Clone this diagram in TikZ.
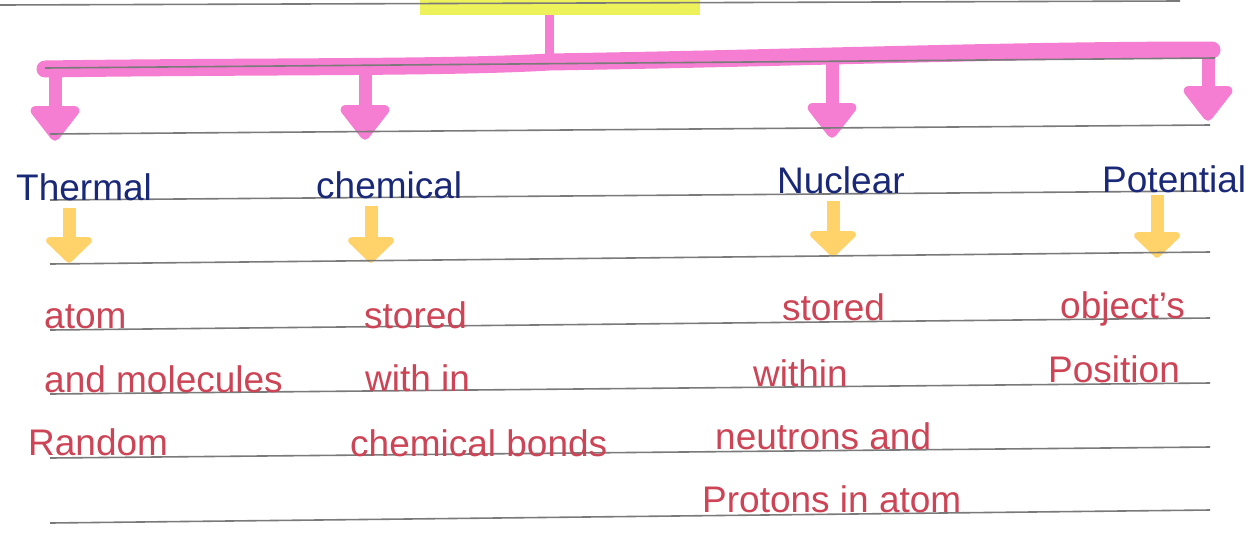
\documentclass[tikz,border=0pt]{standalone}
\usepackage{fontspec}
\setmainfont{Liberation Sans}
\usetikzlibrary{arrows.meta}
\definecolor{pinkc}{HTML}{F57DD2}
\definecolor{yel}{HTML}{FFD36A}
\definecolor{navy}{HTML}{1A2878}
\definecolor{redc}{HTML}{CC4455}
\definecolor{rulec}{HTML}{7A7A7A}
\definecolor{hl}{HTML}{EEF25A}
\pgfdeclarelayer{fg}
\pgfsetlayers{main,fg}
\begin{document}
\begin{tikzpicture}[x=1pt,y=-1pt,
  txt/.style={inner sep=0pt, anchor=base west, font=\fontsize{37}{40}\selectfont, text height=27pt, text depth=8pt},
  lab/.style={txt, text=navy},
  body/.style={txt, text=redc},
  ruleline/.style={draw=rulec, line width=1.6pt},
  pbar/.style={draw=pinkc, line width=17pt, line cap=round},
  pstem/.style={draw=pinkc, line width=9pt},
  parrow/.style={draw=pinkc, line width=13pt, -{Triangle[round, length=38pt, width=56pt]}},
  yarrow/.style={draw=yel, line width=13pt, -{Triangle[round, length=27pt, width=54pt]}}]
\useasboundingbox (0,0) rectangle (1257,539);
\fill[white] (0,0) rectangle (1257,539);
% title highlight (cut at top)
\node[fill=hl, minimum width=280pt, minimum height=16pt, inner sep=0pt] (title) at (560,7) {};
\begin{pgfonlayer}{fg}
% category labels
\node[lab] (thermal) at (16,200) {Thermal};
\node[lab] (chem) at (316,198) {chemical};
\node[lab] (nuc) at (777,193) {Nuclear};
\node[lab] (pot) at (1102,192) {Potential};
% descriptions
\node[body] (t1) at (44,328) {atom};
\node[body] (t2) at (44,392) {and molecules};
\node[body] (t3) at (28,455) {Random};
\node[body] (c1) at (364,328) {stored};
\node[body] (c2) at (365,391) {with in};
\node[body] (c3) at (350,456) {chemical bonds};
\node[body] (n1) at (782,320) {stored};
\node[body] (n2) at (753,386) {within};
\node[body] (n3) at (715,449) {neutrons and};
\node[body] (n4) at (702,512) {Protons in atom};
\node[body] (p1) at (1060,318) {object's};
\node[body] (p2) at (1048,382) {Position};
\end{pgfonlayer}
% pink tree
\coordinate (st) at (549,0);
\coordinate (barmid) at (549,62);
\draw[pstem] (st |- title.south) -- (barmid);
\draw[pbar] (45,69) .. controls (250,66) and (450,68) .. (barmid) .. controls (800,58) and (1000,50) .. (1212,50);
\coordinate (b1) at (55,68);
\coordinate (b2) at (365,66);
\coordinate (b3) at (832,60);
\coordinate (b4) at (1208,52);
\draw[parrow, shorten >=32pt] (b1) -- (b1 |- thermal.north);
\draw[parrow, shorten >=31pt] (b2) -- (b2 |- chem.north);
\draw[parrow, shorten >=28pt] (b3) -- (b3 |- nuc.north);
\draw[parrow, shorten >=44pt] (b4) -- (b4 |- pot.north);
% yellow arrows
\coordinate (ya) at (69,0);
\coordinate (yb) at (371,0);
\coordinate (yc) at (833,0);
\coordinate (yd) at (1157,0);
\draw[yarrow, shorten >=38pt] (ya |- thermal.south) -- (ya |- t1.north);
\draw[yarrow, shorten >=38pt] (yb |- chem.south) -- (yb |- c1.north);
\draw[yarrow, shorten >=36pt] (yc |- nuc.south) -- (yc |- n1.north);
\draw[yarrow, shorten >=33pt, shorten <=-5pt] (yd |- pot.south) -- (yd |- p1.north);
% ruled lines of the paper (seen through the marker ink)
\draw[ruleline] (0,5) -- (1180,1);
\draw[ruleline] (45,68) -- (1215,58);
\draw[ruleline] (50,134) -- (1210,125);
\draw[ruleline] (50,200) -- (1210,191);
\draw[ruleline] (50,264) -- (1210,252);
\draw[ruleline] (50,330) -- (1210,318);
\draw[ruleline] (50,394) -- (1210,383);
\draw[ruleline] (50,458) -- (1210,447);
\draw[ruleline] (50,523) -- (1210,510);
\end{tikzpicture}
\end{document}
